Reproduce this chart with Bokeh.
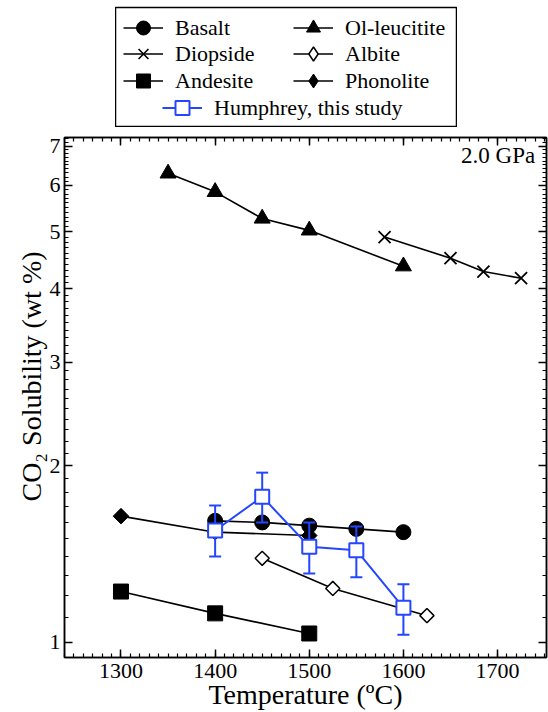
import numpy as np
from bokeh.plotting import figure
from bokeh.layouts import column, row
from bokeh.models import (Range1d, FixedTicker, LinearAxis, LogAxis, Legend, LegendItem,
                          Label, PrintfTickFormatter, CustomJSTickFormatter, Spacer)
from bokeh.embed import file_html
from bokeh.resources import INLINE

FONT = "'Liberation Serif', 'Times New Roman', Times, 'DejaVu Serif', serif"
BLUE = "#2446ff"

# ---- data ----
basalt_T = [1400, 1450, 1500, 1550, 1600]
basalt_co2 = [1.61, 1.60, 1.58, 1.56, 1.54]
olleu_T = [1350, 1400, 1450, 1500, 1600]
olleu_co2 = [6.29, 5.85, 5.27, 5.03, 4.37]
diop_T = [1580, 1650, 1685, 1725]
diop_co2 = [4.90, 4.51, 4.28, 4.17]
albite_T = [1450, 1525, 1625]
albite_co2 = [1.39, 1.235, 1.11]
andes_T = [1300, 1400, 1500]
andes_co2 = [1.22, 1.12, 1.035]
phono_T = [1300, 1400, 1500]
phono_co2 = [1.64, 1.54, 1.52]
hum_T = [1400, 1450, 1500, 1550, 1600]
hum_co2 = [1.55, 1.77, 1.455, 1.435, 1.145]
hum_lo = [1.40, 1.60, 1.31, 1.29, 1.03]
hum_hi = [1.71, 1.945, 1.60, 1.575, 1.255]

x_major = [1300, 1400, 1500, 1600, 1700]
x_minor = list(range(1240, 1760, 10))
y_major = [1, 2, 3, 4, 5, 6, 7]
y_minor = [round(1 + 0.1 * i, 1) for i in range(0, 63)]

# ---- main plot ----
p = figure(frame_width=482, frame_height=520,
           x_range=Range1d(1240, 1752), y_range=Range1d(0.942, 7.24),
           y_axis_type="log", output_backend="svg", toolbar_location=None,
           min_border_left=64, min_border_right=2, min_border_top=10, min_border_bottom=0,
           background_fill_color="white", border_fill_color="white")
p.grid.visible = False
p.outline_line_color = "black"
p.outline_line_width = 1.5

xt = FixedTicker(ticks=x_major, minor_ticks=x_minor)
yt = FixedTicker(ticks=y_major, minor_ticks=y_minor)

p.xaxis[0].ticker = xt
p.yaxis[0].ticker = yt
p.yaxis[0].formatter = PrintfTickFormatter(format="%d")
p.xaxis[0].axis_label = "Temperature (ºC)"
# leading no-break spaces shift the visible label upward, as in the reference
p.yaxis[0].axis_label = "\u00a0" * 6 + "CO₂ Solubility (wt %)"

for ax in (p.xaxis[0], p.yaxis[0]):
    ax.major_label_text_font = FONT
    ax.major_label_text_font_size = "22px"
    ax.major_label_text_color = "black"
    ax.axis_label_text_font = FONT
    ax.axis_label_text_font_size = "28px"
    ax.axis_label_text_font_style = "normal"
    ax.axis_label_text_color = "black"
    ax.major_tick_in = 8
    ax.major_tick_out = 0
    ax.minor_tick_in = 4
    ax.minor_tick_out = 0
    ax.axis_line_width = 1.5
    ax.major_tick_line_width = 1.5
    ax.minor_tick_line_width = 1.2
    ax.major_label_standoff = 4
p.xaxis[0].major_label_standoff = 6
p.xaxis[0].axis_label_standoff = -2
p.yaxis[0].axis_label_standoff = 0

blank = CustomJSTickFormatter(code="return ''")
top = LinearAxis(ticker=xt, formatter=blank, major_label_standoff=0,
                 major_tick_in=8, major_tick_out=0, minor_tick_in=4, minor_tick_out=0,
                 major_tick_line_width=1.5, minor_tick_line_width=1.2, axis_line_width=1.5)
right = LogAxis(ticker=yt, formatter=blank, major_label_standoff=0,
                major_tick_in=8, major_tick_out=0, minor_tick_in=4, minor_tick_out=0,
                major_tick_line_width=1.5, minor_tick_line_width=1.2, axis_line_width=1.5)
p.add_layout(top, "above")
p.add_layout(right, "right")

LW = 1.6
# phonolite
p.line(phono_T, phono_co2, line_color="black", line_width=LW)
p.scatter(phono_T, phono_co2, marker="square", angle=np.pi / 4, size=11,
          fill_color="black", line_color="black")
# andesite
p.line(andes_T, andes_co2, line_color="black", line_width=LW)
p.scatter(andes_T, andes_co2, marker="square", size=15, fill_color="black", line_color="black")
# albite
p.line(albite_T, albite_co2, line_color="black", line_width=LW)
p.scatter(albite_T, albite_co2, marker="square", angle=np.pi / 4, size=10,
          fill_color="white", line_color="black", line_width=1.5)
# basalt
p.line(basalt_T, basalt_co2, line_color="black", line_width=LW)
p.scatter(basalt_T, basalt_co2, marker="circle", size=15, fill_color="black", line_color="black")
# ol-leucitite
p.line(olleu_T, olleu_co2, line_color="black", line_width=LW)
p.scatter(olleu_T, olleu_co2, marker="triangle", size=16, fill_color="black", line_color="black")
# diopside
p.line(diop_T, diop_co2, line_color="black", line_width=LW)
p.scatter(diop_T, diop_co2, marker="x", size=17, line_color="black", line_width=1.8)
# Humphrey
p.segment(x0=hum_T, y0=hum_lo, x1=hum_T, y1=hum_hi, line_color=BLUE, line_width=2)
p.scatter(hum_T, hum_lo, marker="dash", size=12, line_color=BLUE, line_width=2)
p.scatter(hum_T, hum_hi, marker="dash", size=12, line_color=BLUE, line_width=2)
p.line(hum_T, hum_co2, line_color=BLUE, line_width=2)
p.scatter(hum_T, hum_co2, marker="square", size=14, fill_color="white",
          line_color=BLUE, line_width=2)

p.add_layout(Label(x=1740, y=6.75, text="2.0 GPa", text_align="right",
                   text_baseline="middle", text_font=FONT, text_font_size="23px",
                   text_color="black"))

# ---- legend panel (its own small figure; series drawn off-frame, used only for keys) ----
lg = figure(frame_width=342, frame_height=120, x_range=Range1d(0, 1), y_range=Range1d(0, 1),
            x_axis_type=None, y_axis_type=None, output_backend="svg", toolbar_location=None,
            min_border_left=0, min_border_right=0, min_border_top=7, min_border_bottom=0,
            background_fill_color="white", border_fill_color="white")
lg.grid.visible = False
lg.outline_line_color = "black"
lg.outline_line_width = 1.5


def pair(xs, ys, marker, size, fill, color, lw, mlw=1.0):
    r1 = lg.line(xs, ys, line_color=color, line_width=lw)
    r2 = lg.scatter(xs, ys, marker=marker, size=size, fill_color=fill,
                    line_color=color, line_width=mlw)
    return [r1, r2]


entries = [
    ("Basalt", pair(basalt_T, basalt_co2, "circle", 15, "black", "black", LW), (8, 82)),
    ("Diopside", pair(diop_T, diop_co2, "x", 16, None, "black", LW, mlw=1.6), (8, 56)),
    ("Andesite", pair(andes_T, andes_co2, "square", 15, "black", "black", LW), (8, 29)),
    ("Ol-leucitite", pair(olleu_T, olleu_co2, "triangle", 16, "black", "black", LW), (178, 82)),
    ("Albite", pair(albite_T, albite_co2, "diamond", 14, "white", "black", LW, mlw=1.5), (178, 56)),
    ("Phonolite", pair(phono_T, phono_co2, "diamond", 14, "black", "black", LW), (178, 29)),
    ("Humphrey, this study", pair(hum_T, hum_co2, "square", 14, "white", BLUE, 2, mlw=2), (47, 2)),
]

for label, rends, loc in entries:
    leg = Legend(items=[LegendItem(label=label, renderers=rends)], location=loc,
                 label_text_font=FONT, label_text_font_size="22px", label_text_color="black",
                 glyph_width=40, glyph_height=35, label_standoff=12, spacing=0,
                 padding=0, margin=0, border_line_color=None, background_fill_alpha=0)
    lg.add_layout(leg)

layout = column(row(Spacer(width=115, height=127), lg, spacing=0), p, spacing=0)
open("out.html", "w").write(file_html(layout, INLINE))
